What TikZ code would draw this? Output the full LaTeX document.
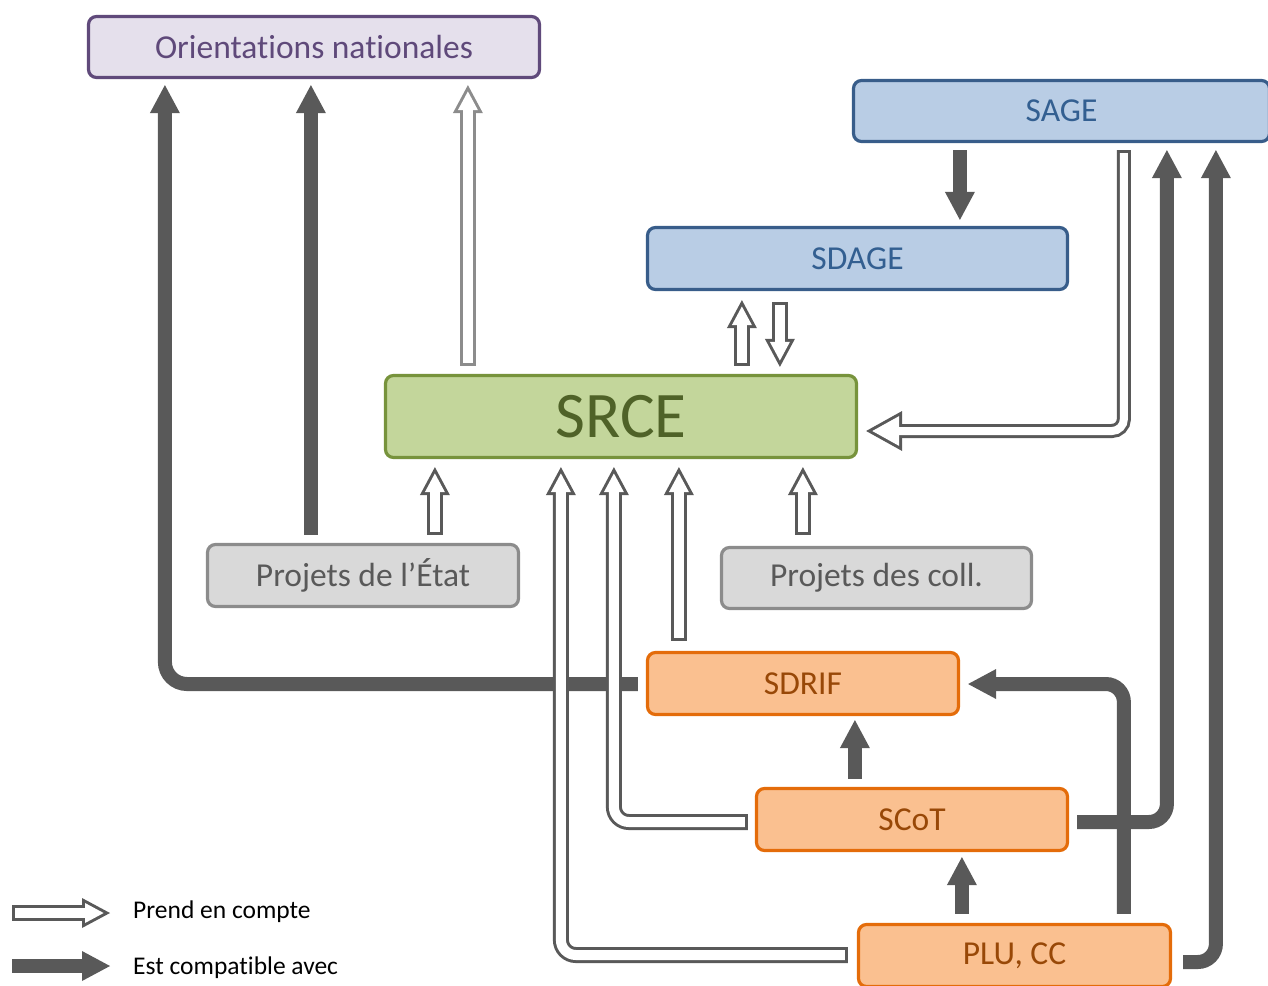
\documentclass[tikz,border=0pt]{standalone}
\usepackage{fontspec}
\setmainfont{Carlito}[Ligatures=NoCommon]
\usetikzlibrary{arrows.meta,calc}
\definecolor{ag}{HTML}{595959}
\definecolor{lg}{HTML}{8C8C8C}
\definecolor{purpfill}{HTML}{E5E0EC}
\definecolor{purpline}{HTML}{604A7B}
\definecolor{purptext}{HTML}{5F497A}
\definecolor{bluefill}{HTML}{B9CDE5}
\definecolor{blueline}{HTML}{385D8A}
\definecolor{bluetext}{HTML}{335F91}
\definecolor{greenfill}{HTML}{C3D69B}
\definecolor{greenline}{HTML}{77933C}
\definecolor{greentext}{HTML}{4F6228}
\definecolor{grayfill}{HTML}{D9D9D9}
\definecolor{grayline}{HTML}{8C8C8C}
\definecolor{graytext}{HTML}{595959}
\definecolor{orfill}{HTML}{FAC090}
\definecolor{orline}{HTML}{E46C0A}
\definecolor{ortext}{HTML}{984807}
\newcommand\hollowarrow[3]{\draw[#1] #3; \draw[#2] #3;}
\begin{document}
\begin{tikzpicture}[x=1pt,y=-1pt,
  box/.style={draw, line width=3.2pt, rounded corners=8pt, minimum height=62pt, inner sep=0pt, font=\fontsize{33.5}{40}\selectfont},
  purplebox/.style={box, fill=purpfill, draw=purpline, text=purptext},
  bluebox/.style={box, fill=bluefill, draw=blueline, text=bluetext},
  greenbox/.style={box, fill=greenfill, draw=greenline, text=greentext, font=\fontsize{65}{78}\selectfont},
  graybox/.style={box, fill=grayfill, draw=grayline, text=graytext},
  orangebox/.style={box, fill=orfill, draw=orline, text=ortext},
  legtxt/.style={anchor=west, inner sep=0pt, font=\fontsize{25.5}{30}\selectfont, text=black},
  fil/.style={draw=ag, line width=14pt, -{Triangle[length=28pt,width=30pt,line width=0pt]}},
  hout/.style={draw=ag, line width=16pt, -{Triangle[length=28pt,width=30pt,line width=0pt]}},
  houtlight/.style={hout, draw=lg},
  hin/.style={draw=white, line width=10pt, shorten <=3pt, shorten >=6.35pt, -{Triangle[length=18.65pt,width=20pt,line width=0pt]}},
  houtbig/.style={draw=ag, line width=14pt, -{Triangle[length=36pt,width=40pt,line width=0pt]}},
  hinbig/.style={draw=white, line width=8pt, shorten <=3pt, shorten >=6.18pt, -{Triangle[length=26.82pt,width=29.8pt,line width=0pt]}},
]
\useasboundingbox (0,0) rectangle (1268,985);

% nodes
\node[purplebox, minimum width=451pt, minimum height=61pt] (orient) at (314,47) {Orientations nationales};
\node[bluebox, minimum width=416pt, minimum height=61pt] (sage) at (1061.5,111) {SAGE};
\node[bluebox, minimum width=420pt] (sdage) at (857.5,258.5) {SDAGE};
\node[greenbox, minimum width=471pt, minimum height=82pt] (srce) at (621,416.5) {SRCE};
\node[graybox, minimum width=311pt] (pe) at (363,575.5) {Projets de l’État};
\node[graybox, minimum width=310pt, minimum height=61pt] (pc) at (876.5,578) {Projets des coll.};
\node[orangebox, minimum width=311pt] (sdrif) at (803,683.5) {SDRIF};
\node[orangebox, minimum width=311pt] (scot) at (912,819.5) {SCoT};
\node[orangebox, minimum width=312pt] (plu) at (1014.5,955.5) {PLU, CC};

% legend
\node[legtxt] (l1) at (133,912) {Prend en compte};
\node[legtxt] (l2) at (133,968) {Est compatible avec};
\coordinate (l1s) at (12,913);
\coordinate (l2s) at (12,966);

% filled arrows (Est compatible avec)
\draw[fil, rounded corners=22pt] ($(sdrif.west)+(-8,0.5)$) -| ($(orient.south west)+(78,6)$);
\draw[fil] ($(pe.north west)+(105,-8)$) -- ($(orient.south west)+(224,6)$);
\draw[fil] ($(sage.south west)+(108,7)$) -- ($(sdage.north west)+(314,-6)$);
\draw[fil, rounded corners=18pt] ($(scot.east)+(8,2.5)$) -| ($(sage.south west)+(315,7)$);
\draw[fil, rounded corners=18pt] ($(plu.east)+(11,6.5)$) -| ($(sage.south west)+(364,7)$);
\draw[fil] ($(scot.north west)+(100,-8)$) -- ($(sdrif.south west)+(209,4)$);
\draw[fil] ($(plu.north west)+(105,-9)$) -- ($(scot.south west)+(207,5)$);
\draw[fil, rounded corners=18pt] ($(plu.north west)+(267,-9)$) |- ($(sdrif.east)+(8,0.5)$);
\draw[fil] (l2s) -- ($(l2.west)+(-23,-2)$);

% hollow arrows (Prend en compte)
\hollowarrow{houtlight}{hin}{($(srce.north west)+(84,-8)$) -- ($(orient.south west)+(381,6)$)}
\hollowarrow{houtbig, rounded corners=12pt}{hinbig, rounded corners=12pt}{($(sage.south west)+(272,7)$) |- ($(srce.east)+(8,14.5)$)}
\hollowarrow{hout}{hin}{($(srce.north west)+(358,-8)$) -- ($(sdage.south west)+(96,9)$)}
\hollowarrow{hout}{hin}{($(sdage.south west)+(134,11)$) -- ($(srce.north west)+(396,-7)$)}
\hollowarrow{hout}{hin}{($(pe.north west)+(229,-8)$) -- ($(srce.south west)+(51,8)$)}
\hollowarrow{hout, rounded corners=15pt}{hin, rounded corners=15pt}{($(plu.west)+(-9,-0.5)$) -| ($(srce.south west)+(177,8)$)}
\hollowarrow{hout, rounded corners=15pt}{hin, rounded corners=15pt}{($(scot.west)+(-7,2.5)$) -| ($(srce.south west)+(230,8)$)}
\hollowarrow{hout}{hin}{($(sdrif.north west)+(33,-10)$) -- ($(srce.south west)+(295,8)$)}
\hollowarrow{hout}{hin}{($(pc.north west)+(83,-11)$) -- ($(srce.south west)+(419,8)$)}
\hollowarrow{hout}{hin}{(l1s) -- ($(l1.west)+(-23,1)$)}
\end{tikzpicture}
\end{document}
